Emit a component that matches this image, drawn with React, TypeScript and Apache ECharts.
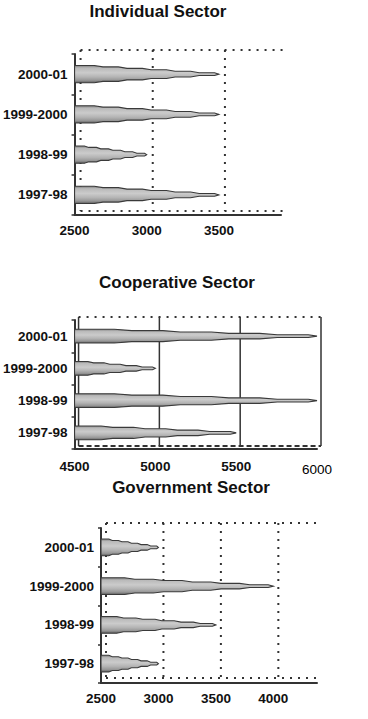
import React, { useEffect, useRef } from 'react';
import * as echarts from 'echarts';

// Categories, listed bottom to top as ECharts draws a category y axis
const years = ['1997-98', '1998-99', '1999-2000', '2000-01'];

const individualValues = [3500, 3000, 3500, 3500];
const cooperativeValues = [5500, 6000, 5000, 6000];
const governmentValues = [3000, 3500, 4000, 3000];

const individualTicks = [2500, 3000, 3500];
const cooperativeTicks = [4500, 5000, 5500, 6000];
const governmentTicks = [2500, 3000, 3500, 4000];

const titles = ['Individual Sector', 'Cooperative Sector', 'Government Sector'];

const FONT = '"Liberation Sans", Arial, Helvetica, sans-serif';
const INK = '#333333';

type Panel = {
  title: string;
  titleX: number;
  titleY: number;
  values: number[];
  ticks: number[];
  base: number;
  max: number;
  grid: { left: number; top: number; width: number; height: number };
  labelMargin: number;
  steps: number;
  dx: number;
  dy: number;
  gridDash: number[] | null;
  gridWidth: number;
  topDash: number[];
  bottomDash: number[];
  plainLabel?: number;
};

const panels: Panel[] = [
  {
    title: titles[0], titleX: 158, titleY: 3,
    values: individualValues, ticks: individualTicks,
    base: 2500, max: 3930,
    grid: { left: 74, top: 54, width: 207, height: 161 },
    labelMargin: 8, steps: 6, dx: 6, dy: 4,
    gridDash: [2, 6], gridWidth: 2, topDash: [2, 6], bottomDash: [2, 6],
  },
  {
    title: titles[1], titleX: 177, titleY: 274,
    values: cooperativeValues, ticks: cooperativeTicks,
    base: 4500, max: 6000,
    grid: { left: 74, top: 320, width: 243, height: 129 },
    labelMargin: 10, steps: 5, dx: 4, dy: 3,
    gridDash: null, gridWidth: 1.5, topDash: [2, 6], bottomDash: [5, 3],
    plainLabel: 6000,
  },
  {
    title: titles[2], titleX: 191, titleY: 479,
    values: governmentValues, ticks: governmentTicks,
    base: 2500, max: 4380,
    grid: { left: 101, top: 528, width: 216, height: 155 },
    labelMargin: 8, steps: 6, dx: 5, dy: 5,
    gridDash: [2, 6], gridWidth: 2, topDash: [2, 6], bottomDash: [2, 6],
  },
];

function wallRenderer(p: Panel) {
  return (params: any, api: any) => {
    const cs = params.coordSys;
    const x = api.coord([api.value(0), 0])[0] + p.dx;
    const top = cs.y - p.dy;
    const bottom = cs.y + cs.height - p.dy;
    const lineStyle: any = { stroke: INK, lineWidth: p.gridWidth };
    if (p.gridDash) lineStyle.lineDash = p.gridDash;
    const children: any[] = [
      { type: 'line', shape: { x1: x, y1: top, x2: x, y2: bottom }, style: lineStyle },
    ];
    if (params.dataIndex === 0) {
      const left = cs.x + p.dx;
      const right = cs.x + cs.width + p.dx;
      children.push({
        type: 'line',
        shape: { x1: left, y1: top, x2: right, y2: top },
        style: { stroke: INK, lineWidth: 2, lineDash: p.topDash },
      });
      children.push({
        type: 'line',
        shape: { x1: left, y1: bottom, x2: right, y2: bottom },
        style: { stroke: INK, lineWidth: 2, lineDash: p.bottomDash },
      });
    }
    return { type: 'group', children };
  };
}

function coneRenderer(p: Panel) {
  return (params: any, api: any) => {
    const idx = api.value(1);
    const start = api.coord([p.base, idx]);
    const end = api.coord([api.value(0), idx]);
    const band = api.size([0, 1])[1];
    const half = (band * 0.43) / 2;
    const n = p.steps;
    const y = start[1];
    const x0 = start[0];
    const x1 = end[0];
    const L = x1 - x0;
    const seg = L / n;
    const slant = seg * 0.18;
    const topPts: number[][] = [];
    for (let k = 0; k < n; k++) {
      const h = half * (1 - k / n);
      const xa = x0 + seg * k + (k ? slant : 0);
      const xb = x0 + seg * (k + 1) - slant;
      topPts.push([xa, y - h], [xb, y - h]);
    }
    const bottomPts = topPts.map(([px, py]) => [px, y + (y - py)]).reverse();
    const points = [...topPts, [x1, y], ...bottomPts];
    return {
      type: 'polygon',
      shape: { points },
      style: {
        fill: new echarts.graphic.LinearGradient(0, 0, 0, 1, [
          { offset: 0, color: '#7c7c7c' },
          { offset: 0.14, color: '#b9b9b9' },
          { offset: 0.42, color: '#cbcbcb' },
          { offset: 0.66, color: '#b4b4b4' },
          { offset: 0.86, color: '#969696' },
          { offset: 1, color: '#5c5c5c' },
        ]),
        stroke: '#3a3a3a',
        lineWidth: 1.1,
      },
    };
  };
}

export default function App() {
  const ref = useRef<HTMLDivElement>(null);

  useEffect(() => {
    if (!ref.current) return;
    const chart = echarts.init(ref.current, null, { renderer: 'svg' });

    const option: any = {
      animation: false,
      backgroundColor: '#ffffff',
      title: panels.map((p) => ({
        text: p.title,
        left: p.titleX,
        top: p.titleY,
        padding: 0,
        textAlign: 'center',
        textStyle: { fontFamily: FONT, fontWeight: 'bold', fontSize: 17, color: '#111' },
      })),
      grid: panels.map((p) => ({ ...p.grid, containLabel: false })),
      xAxis: panels.map((p, i) => ({
        type: 'value',
        gridIndex: i,
        min: p.base,
        max: p.max,
        interval: 500,
        axisLine: { show: true, onZero: false, lineStyle: { color: INK, width: 2 } },
        axisTick: { show: false },
        splitLine: { show: false },
        axisLabel: {
          margin: p.labelMargin,
          fontFamily: FONT,
          fontWeight: 'bold',
          fontSize: 13.5,
          color: '#111',
          formatter: (v: number) => {
            if (v % 500 !== 0) return '';
            if (p.plainLabel === v) return '{n|' + v + '}';
            return String(v);
          },
          rich: {
            n: { fontFamily: FONT, fontWeight: 'normal', fontSize: 13.5, color: '#000', padding: [3, 0, 0, 0] },
          },
        },
      })),
      yAxis: panels.map((p, i) => ({
        type: 'category',
        gridIndex: i,
        data: years,
        axisLine: { show: true, lineStyle: { color: INK, width: 2 } },
        axisTick: { show: true, length: 3, lineStyle: { color: INK, width: 1.5 } },
        splitLine: { show: false },
        axisLabel: { margin: 7, fontFamily: FONT, fontWeight: 'bold', fontSize: 13.5, color: '#111' },
      })),
      series: panels.flatMap((p, i) => [
        {
          type: 'custom',
          name: p.title + ' wall',
          xAxisIndex: i,
          yAxisIndex: i,
          z: 1,
          silent: true,
          data: p.ticks.map((t) => [t, 0]),
          encode: { x: 0, y: 1 },
          renderItem: wallRenderer(p),
        },
        {
          type: 'custom',
          name: p.title,
          xAxisIndex: i,
          yAxisIndex: i,
          z: 3,
          data: p.values.map((v, k) => [v, k]),
          encode: { x: 0, y: 1 },
          renderItem: coneRenderer(p),
        },
      ]),
    };

    chart.setOption(option);
    return () => chart.dispose();
  }, []);

  return (
    <div
      ref={ref}
      style={{ position: 'absolute', left: 0, top: 0, width: 368, height: 719, background: '#fff' }}
    />
  );
}
